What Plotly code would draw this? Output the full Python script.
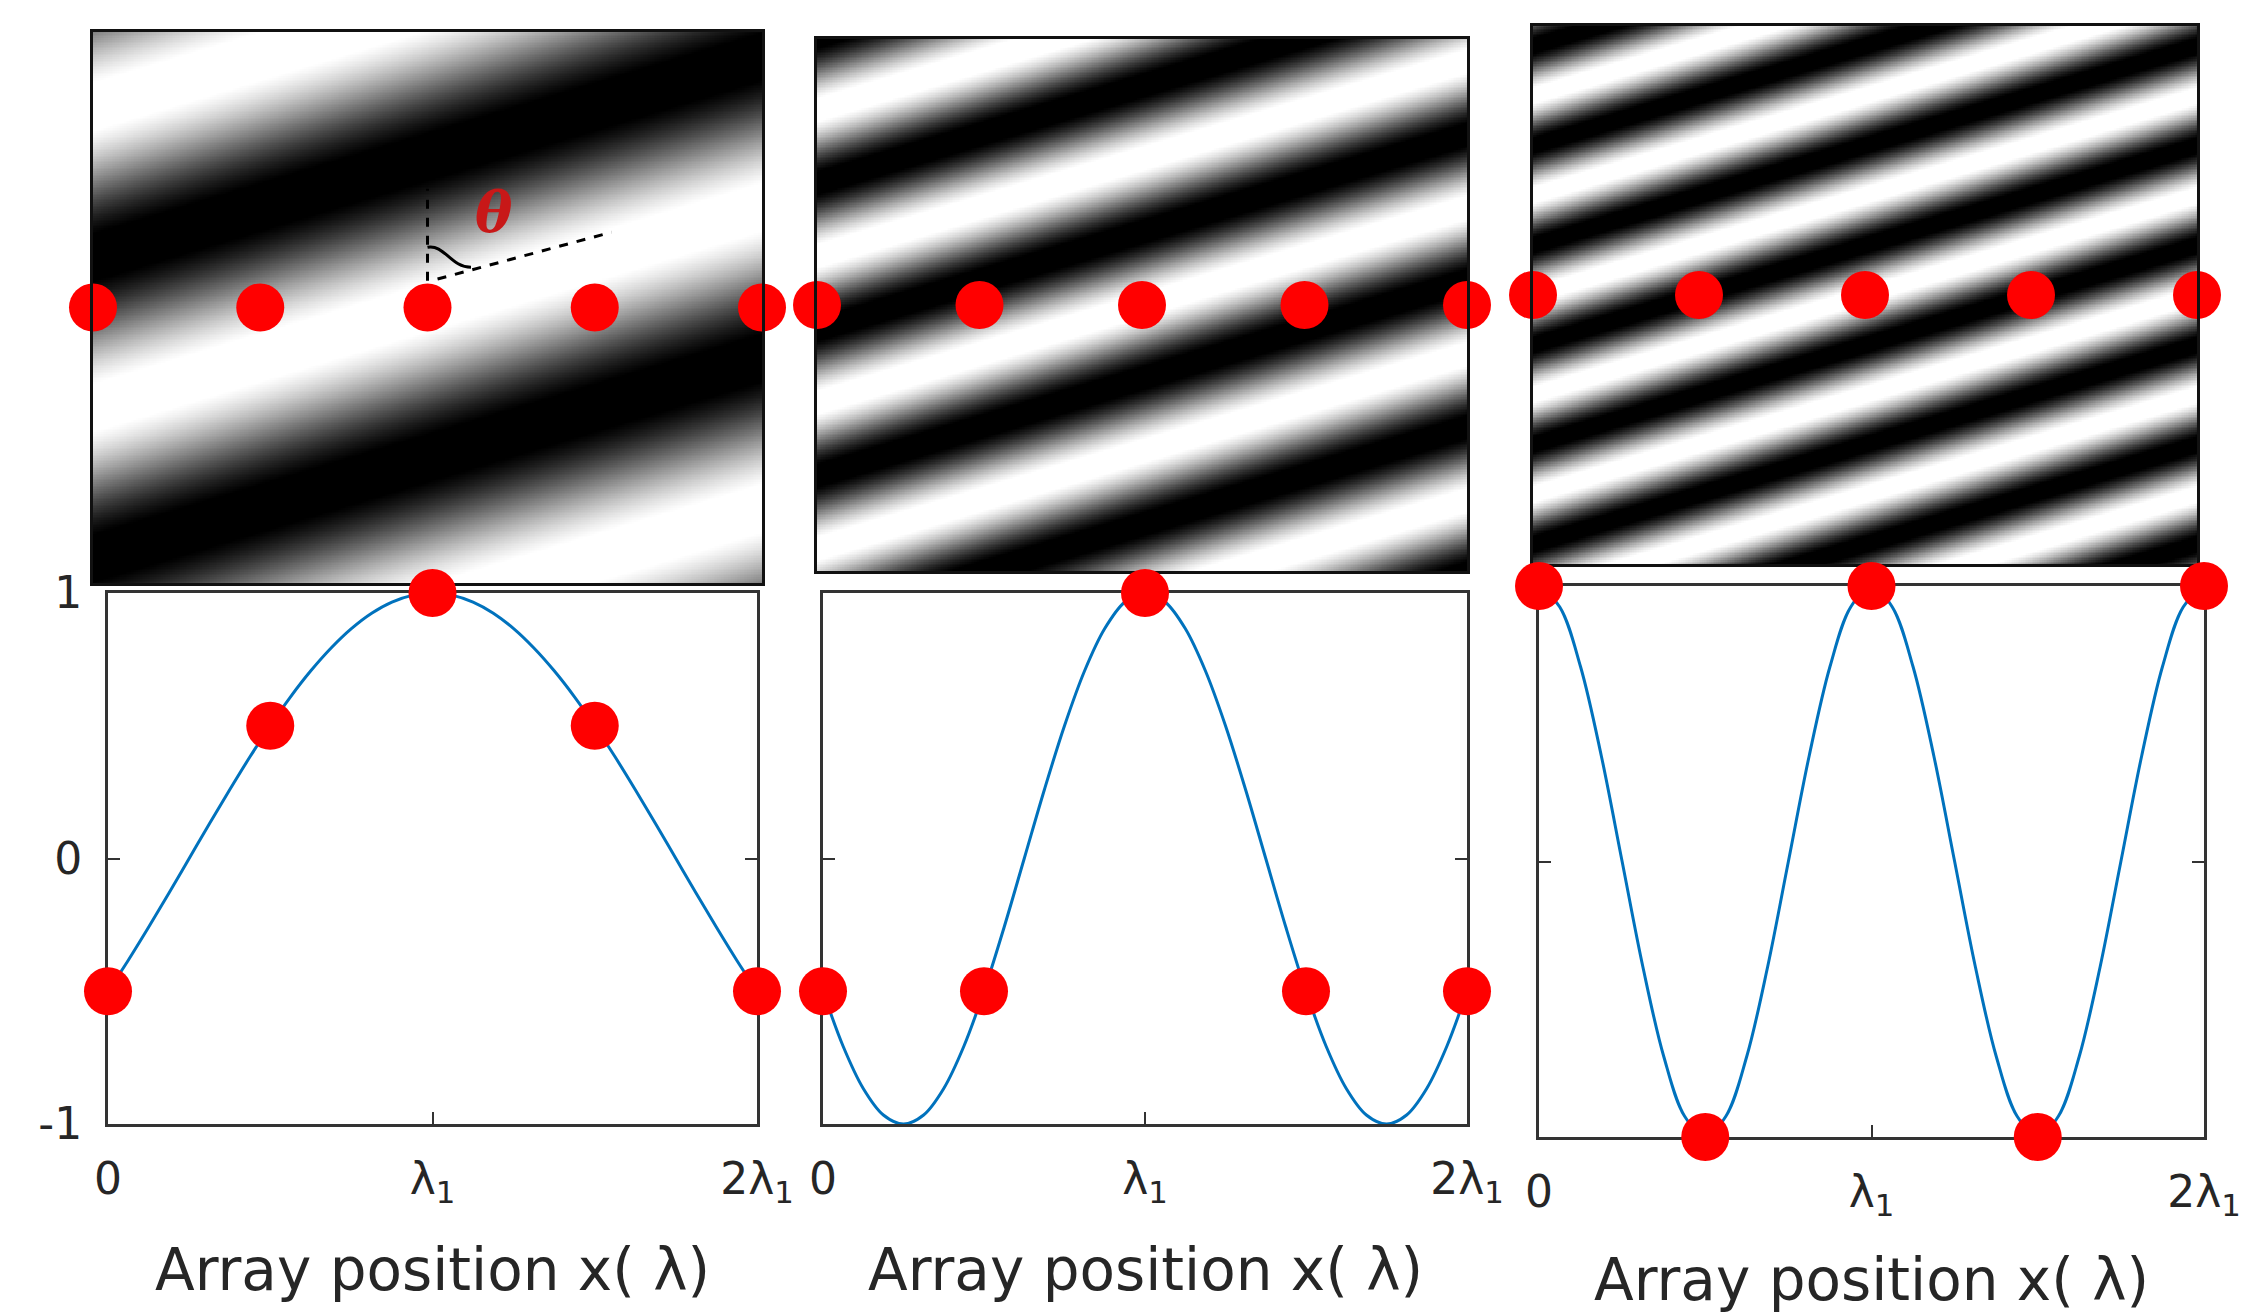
import numpy as np
import plotly.graph_objects as go

W, H = 2251, 1312
PAGE_OFFSET = 8  # default body margin of the html page

# ---------------- data (x in units of lambda_1) ----------------
array_x = [0, 0.5, 1, 1.5, 2]
dots_p1 = [-0.5, 0.5, 1, 0.5, -0.5]
dots_p2 = [-0.5, -0.5, 1, -0.5, -0.5]
dots_p3 = [1, -1, 1, -1, 1]

curve_x = [i / 16 for i in range(33)]
curve_p1 = [-0.5, -0.383, -0.259, -0.131, 0, 0.131, 0.259, 0.383, 0.5, 0.609, 0.707, 0.793,
            0.866, 0.924, 0.966, 0.991, 1, 0.991, 0.966, 0.924, 0.866, 0.793, 0.707, 0.609,
            0.5, 0.383, 0.259, 0.131, 0, -0.131, -0.259, -0.383, -0.5]
curve_p2 = [-0.5, -0.707, -0.866, -0.966, -1, -0.966, -0.866, -0.707, -0.5, -0.259, 0, 0.259,
            0.5, 0.707, 0.866, 0.966, 1, 0.966, 0.866, 0.707, 0.5, 0.259, 0, -0.259,
            -0.5, -0.707, -0.866, -0.966, -1, -0.966, -0.866, -0.707, -0.5]
curve_p3 = [1, 0.924, 0.707, 0.383, 0, -0.383, -0.707, -0.924, -1, -0.924, -0.707, -0.383,
            0, 0.383, 0.707, 0.924, 1, 0.924, 0.707, 0.383, 0, -0.383, -0.707, -0.924,
            -1, -0.924, -0.707, -0.383, 0, 0.383, 0.707, 0.924, 1]

# fringe pattern of the top images: period along the array (lambda_1) and tilt
fringe_period_x = [3.0, 1.5, 1.0]
fringe_tilt = 0.3

x_tickvals = [0, 1, 2]
x_ticktext = ["0", "λ<sub>1</sub>", "2λ<sub>1</sub>"]
y_tickvals = [-1, 0, 1]
y_ticktext = ["-1", "0", "1"]
axis_title = "Array position x( λ)"

dots = [dots_p1, dots_p2, dots_p3]
curves = [curve_p1, curve_p2, curve_p3]

# ---------------- layout boxes (pixels: left, right, top, bottom) ----------------
img_px = [(93, 762, 32, 583), (817, 1467, 39, 571), (1533, 2197, 26, 564)]
plot_px = [(108, 757, 593, 1124), (823, 1467, 593, 1124), (1539, 2204, 586, 1137)]


def px2x(p):
    return (p - PAGE_OFFSET) / W


def px2y(p):
    return 1 - (p - PAGE_OFFSET) / H


def dom(l, r, t, b):
    return [px2x(l), px2x(r)], [px2y(b), px2y(t)]


RED = "#ff0000"
BLUE = "#0072BD"
TXT = "#262626"
FONT = "DejaVu Sans"

fig = go.Figure()
layout = dict(width=W, height=H, margin=dict(l=0, r=0, t=0, b=0, autoexpand=False),
              paper_bgcolor="white", plot_bgcolor="white", showlegend=False)

gray = [[0, "#000000"], [0.06, "#000000"], [0.94, "#ffffff"], [1, "#ffffff"]]

# -------- top row: fringe images --------
for i in range(3):
    l, r, t, b = img_px[i]
    h = (b - t) / (r - l)
    xs = np.linspace(0, 2, 380)
    ys = np.linspace(-h, h, 320)
    X, Y = np.meshgrid(xs, ys)
    Px = fringe_period_x[i]
    Py = Px * fringe_tilt
    Z = np.cos(2 * np.pi * ((X - 1) / Px - Y / Py)).astype(np.float32)
    ax = "" if i == 0 else str(i + 1)
    fig.add_trace(go.Heatmap(x=xs, y=ys, z=Z, colorscale=gray, zmin=-1, zmax=1,
                             showscale=False, hoverinfo="skip",
                             xaxis="x" + ax, yaxis="y" + ax))
    fig.add_trace(go.Scatter(x=array_x, y=[0] * len(array_x), mode="markers",
                             marker=dict(color=RED, size=48),
                             cliponaxis=False, xaxis="x" + ax, yaxis="y" + ax))
    xd, yd = dom(l, r, t, b)
    common = dict(showline=True, mirror=True, linecolor="#111111", linewidth=3,
                  ticks="", showticklabels=False, showgrid=False, zeroline=False,
                  automargin=False)
    layout["xaxis" + ax] = dict(domain=xd, range=[0, 2], anchor="y" + ax, **common)
    layout["yaxis" + ax] = dict(domain=yd, range=[-h, h], anchor="x" + ax, **common)

# -------- bottom row: line plots --------
for i in range(3):
    l, r, t, b = plot_px[i]
    ax = str(i + 4)
    fig.add_trace(go.Scatter(x=curve_x, y=curves[i], mode="lines",
                             line=dict(color=BLUE, width=3, shape="spline", smoothing=1.0),
                             xaxis="x" + ax, yaxis="y" + ax))
    fig.add_trace(go.Scatter(x=array_x, y=dots[i], mode="markers",
                             marker=dict(color=RED, size=48),
                             cliponaxis=False, xaxis="x" + ax, yaxis="y" + ax))
    xd, yd = dom(l, r, t, b)
    common = dict(showline=True, mirror="ticks", linecolor="#333333", linewidth=3,
                  ticks="inside", ticklen=12, tickwidth=2, tickcolor="#333333",
                  showgrid=False, zeroline=False, layer="below traces",
                  automargin=False,
                  tickfont=dict(family=FONT, size=44, color=TXT))
    layout["xaxis" + ax] = dict(domain=xd, range=[0, 2], anchor="y" + ax,
                                tickvals=x_tickvals, ticktext=x_ticktext,
                                ticklabelstandoff=14, **common)
    layout["yaxis" + ax] = dict(domain=yd, range=[-1, 1], anchor="x" + ax,
                                tickvals=y_tickvals, ticktext=y_ticktext,
                                showticklabels=(i == 0), ticklabelstandoff=14, **common)

# -------- axis titles --------
annotations = []
title_y = [1270, 1270, 1280]
for i in range(3):
    l, r, t, b = plot_px[i]
    annotations.append(dict(text=axis_title, x=px2x((l + r) / 2), y=px2y(title_y[i]),
                            xref="paper", yref="paper", showarrow=False,
                            xanchor="center", yanchor="middle",
                            font=dict(family=FONT, size=58, color=TXT)))

# -------- theta annotation on first image --------
annotations.append(dict(text="<b><i>θ</i></b>", x=1.2, y=0.285, xref="x", yref="y",
                        showarrow=False, xanchor="center", yanchor="middle",
                        font=dict(family="DejaVu Serif", size=56, color="#c81818")))
shapes = [
    dict(type="line", xref="x", yref="y", x0=1.0, x1=1.0, y0=0.08, y1=0.355,
         line=dict(color="black", width=3, dash="dash")),
    dict(type="line", xref="x", yref="y", x0=1.03, x1=1.55, y0=0.085, y1=0.225,
         line=dict(color="black", width=3, dash="dash")),
    dict(type="path", xref="x", yref="y",
         path="M 1.0,0.18 C 1.05,0.19 1.07,0.12 1.13,0.12",
         line=dict(color="black", width=3)),
]

layout["annotations"] = annotations
layout["shapes"] = shapes
fig.update_layout(**layout)
fig.write_html("out.html")
